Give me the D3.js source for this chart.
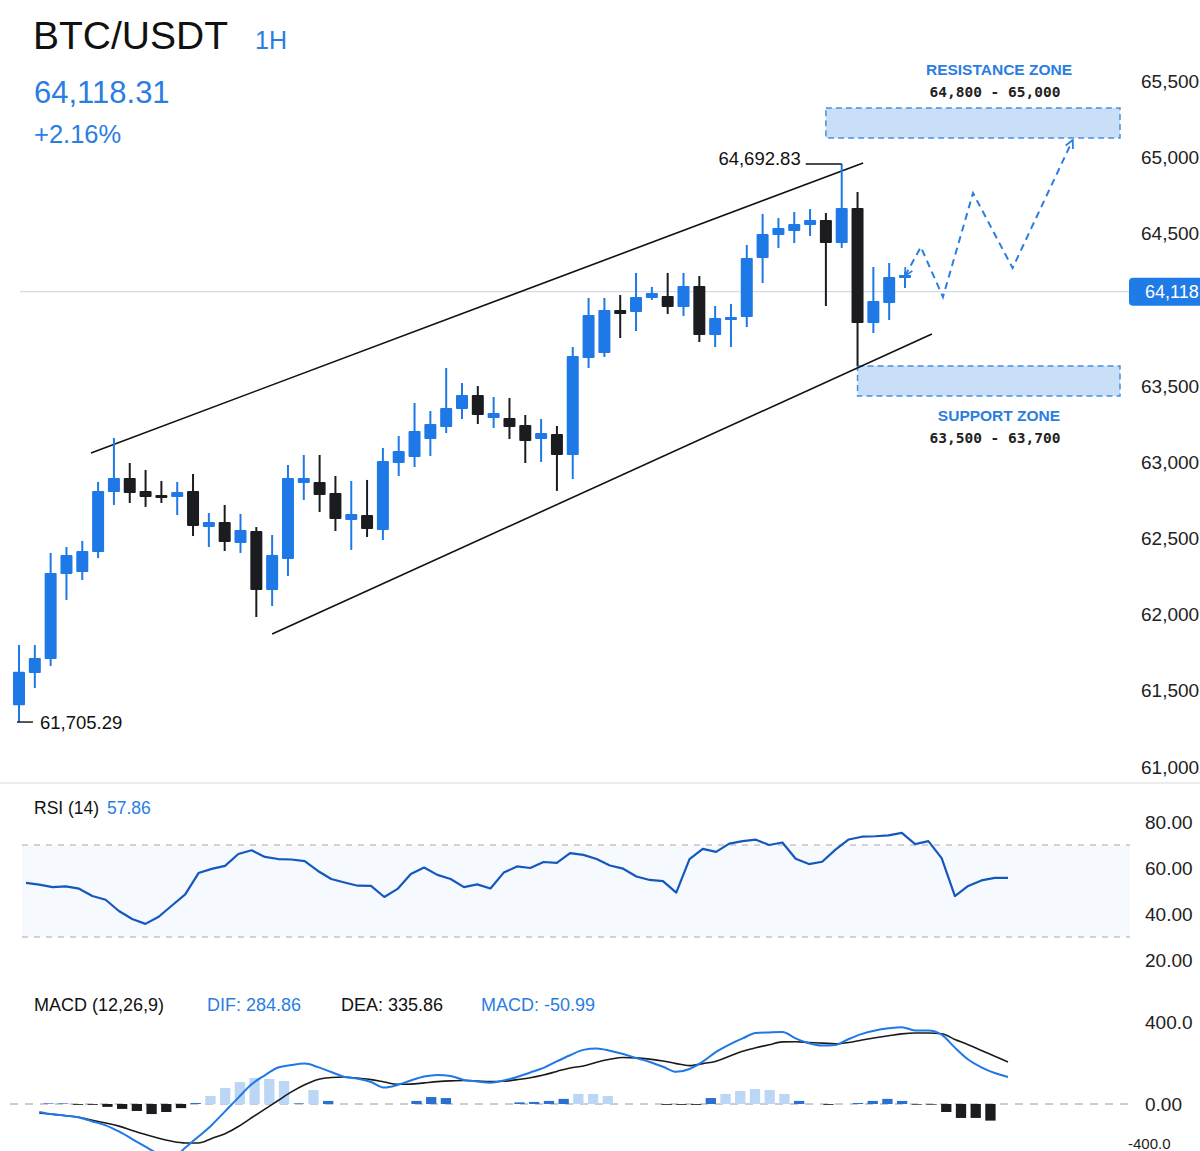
<!DOCTYPE html>
<html>
<head>
<meta charset="utf-8">
<script src="https://cdn.jsdelivr.net/npm/d3@7"></script>
<style>
  html, body { margin: 0; padding: 0; background: #fff; }
  svg { display: block; font-family: "Liberation Sans", Arial, sans-serif; }
</style>
</head>
<body>
<svg id="chart" width="1200" height="1151"></svg>
<script>
// Kerzen (1H)
const candleOpen  = [61405,61617,61708,62266,62279,62410,62804,62896,62811,62784,62771,62811,62574,62607,62469,62548,62161,62364,62863,62870,62797,62620,62653,62555,62994,63034,63152,63230,63348,63440,63289,63289,63244,63152,63184,63047,63683,63716,63998,63985,64077,64090,64018,64155,63834,63939,63952,64339,64490,64516,64556,64588,64437,64667,63913,64044,64214];
const candleHigh  = [61800,61800,62404,62443,62483,62870,63158,62994,62948,62876,62870,62922,62666,62719,62660,62574,62522,62981,63047,63047,62909,62876,62883,63093,63171,63388,63335,63617,63519,63499,63427,63421,63309,63283,63237,63755,64077,64077,64096,64241,64149,64241,64241,64221,64024,64037,64424,64628,64601,64641,64660,64634,64956,64772,64280,64306,64247];
const candleLow   = [61295,61518,61663,62096,62227,62371,62719,62732,62706,62732,62653,62515,62443,62417,62404,61984,62056,62253,62752,62673,62548,62424,62509,62489,62909,62968,63040,63191,63283,63250,63224,63152,62994,63001,62811,62889,63617,63690,63814,63860,64064,63972,63959,63788,63755,63755,63886,64175,64405,64437,64483,64024,64405,63631,63847,63932,64142];
const candleClose = [61625,61715,62273,62391,62417,62811,62896,62797,62771,62771,62804,62581,62607,62476,62555,62161,62391,62896,62896,62784,62627,62660,62561,63007,63073,63204,63250,63355,63440,63309,63322,63230,63139,63191,63047,63696,63965,63998,63972,64083,64109,64018,64155,63834,63945,63952,64339,64496,64536,64562,64588,64437,64667,63913,64057,64214,64228];

const priceTicks = [61000, 61500, 62000, 62500, 63000, 63500, 64500, 65000, 65500];
const lastPrice = 64118.31;

// Trendkanal und Projektion als [Kerzenindex, Preis]
const channelUpper = [[4.55, 63060], [53.35, 64962]];
const channelLower = [[16, 61872], [57.7, 63840]];
const projection = [[56, 64221], [57, 64411], [58.4, 64083], [60.3, 64765], [62.8, 64273], [66.6, 65113]];

// Zonen
const zoneNames  = ["RESISTANCE ZONE", "SUPPORT ZONE"];
const zoneText   = ["64,800 - 65,000", "63,500 - 63,700"];
const zoneLow    = [65126, 63434];
const zoneHigh   = [65323, 63631];
const zoneStart  = [51, 53];

// RSI (14)
const rsiValues = [53.5,52.8,51.7,52.0,51.0,47.8,46.2,41.3,37.8,35.7,38.8,43.7,48.5,57.8,59.6,60.9,66.1,67.7,64.8,63.9,63.7,63.0,58.7,55.2,53.7,52.3,52.2,47.4,50.9,57.4,60.2,57.0,55.2,51.7,52.9,51.1,58.0,60.7,60.0,62.6,62.2,66.5,65.7,63.9,61.1,59.7,56.3,54.8,54.3,49.3,63.9,68.3,67.0,70.6,71.7,72.3,70.0,71.1,64.0,61.7,62.7,68.0,72.4,73.6,73.8,74.2,75.3,70.4,71.7,64.3,47.8,52.2,54.6,55.7,55.7];
const rsiTicks = [80, 60, 40, 20];
const rsiBands = [70, 30];

// MACD (12,26,9) – Linien starten bei Index 1
const difValues = [-39,-50,-57,-66,-85,-104,-134,-171,-208,-244,-265,-213,-159,-102,-36,31,96,140,178,190,197,180,156,132,123,107,80,93,115,134,142,137,117,110,104,115,132,154,176,208,238,264,271,260,244,224,205,182,157,171,207,254,290,320,346,349,351,320,296,285,288,317,342,359,369,375,359,359,338,275,217,179,151,132];
const deaValues = [-44,-50,-57,-65,-79,-93,-108,-129,-149,-167,-182,-190,-190,-168,-145,-110,-67,-25,17,59,94,120,129,132,126,119,107,96,97,103,109,113,115,112,109,111,119,128,141,159,176,185,204,218,227,225,219,210,197,187,197,209,233,257,274,289,303,304,300,297,294,300,312,323,333,342,346,346,343,315,289,261,233,205];
const histValues = [3,3,-4,-4,-14,-24,-34,-49,-39,-20,5,39,78,107,127,122,112,3,68,15,0,0,0,0,0,15,34,29,0,0,0,0,8,10,15,25,49,49,39,0,0,0,-4,-4,-4,29,49,63,73,68,49,15,0,-4,0,5,15,25,15,-3,-3,-39,-68,-68,-81];
const macdTicks = [400, 0];

const blue = "#1e78e6", dark = "#1b1c20", textBlue = "#2a7de1";
const svg = d3.select("#chart");

// Skalen
const x = d3.scaleLinear().domain([0, 56]).range([19, 905]);
const y = d3.scaleLinear().domain([61000, 65500]).range([767, 81]);
const plotRight = 1120;

// Kopfzeile
svg.append("text").attr("x", 33).attr("y", 49).attr("font-size", 39).attr("fill", "#111").text("BTC/USDT");
svg.append("text").attr("x", 255).attr("y", 49).attr("font-size", 25).attr("fill", textBlue).text("1H");
svg.append("text").attr("x", 34).attr("y", 103).attr("font-size", 31).attr("fill", textBlue).text("64,118.31");
svg.append("text").attr("x", 34).attr("y", 143).attr("font-size", 25.5).attr("fill", textBlue).text("+2.16%");

// Preisachse
svg.append("g").selectAll("text").data(priceTicks).enter().append("text")
   .attr("x", 1141).attr("y", d => y(d)).attr("dy", "0.35em")
   .attr("font-size", 19).attr("fill", "#222")
   .text(d => d3.format(",")(d));

// aktuelle Preislinie
svg.append("line").attr("x1", 20).attr("x2", 1130)
   .attr("y1", y(lastPrice)).attr("y2", y(lastPrice))
   .attr("stroke", "#d3dbe6").attr("stroke-width", 1.2);

// Zonen
zoneNames.forEach((name, i) => {
  const top = y(zoneHigh[i]), bot = y(zoneLow[i]);
  svg.append("rect").attr("x", x(zoneStart[i])).attr("y", top)
     .attr("width", plotRight - x(zoneStart[i])).attr("height", bot - top)
     .attr("fill", "#c9def7").attr("stroke", "#4a8fe2").attr("stroke-width", 1.5)
     .attr("stroke-dasharray", "6,4");
  const ty = i === 0 ? top - 33 : bot + 25;
  svg.append("text").attr("x", 999).attr("y", ty).attr("text-anchor", "middle")
     .attr("font-size", 15.5).attr("font-weight", 600).attr("fill", textBlue).text(name);
  svg.append("text").attr("x", 995).attr("y", ty + 22).attr("text-anchor", "middle")
     .attr("font-size", 14.5).attr("font-weight", 600).attr("font-family", "DejaVu Sans Mono")
     .attr("fill", "#222").text(zoneText[i]);
});

// Kanal
[channelUpper, channelLower].forEach(pts => {
  svg.append("line")
     .attr("x1", x(pts[0][0])).attr("y1", y(pts[0][1]))
     .attr("x2", x(pts[1][0])).attr("y2", y(pts[1][1]))
     .attr("stroke", "#111").attr("stroke-width", 1.6);
});

// Kerzen
const candles = d3.range(candleOpen.length).map(i => ({
  i, o: candleOpen[i], h: candleHigh[i], l: candleLow[i], c: candleClose[i]
}));
const cg = svg.append("g");
cg.selectAll("line").data(candles).enter().append("line")
  .attr("x1", d => x(d.i)).attr("x2", d => x(d.i))
  .attr("y1", d => y(d.h)).attr("y2", d => y(d.l))
  .attr("stroke", d => d.c >= d.o ? blue : dark).attr("stroke-width", 2);
cg.selectAll("rect").data(candles).enter().append("rect")
  .attr("x", d => x(d.i) - 6).attr("width", 12)
  .attr("y", d => y(Math.max(d.o, d.c)))
  .attr("height", d => Math.max(3, Math.abs(y(d.o) - y(d.c))))
  .attr("rx", 1)
  .attr("fill", d => d.c >= d.o ? blue : dark);

// Hoch/Tief Beschriftung
const hiIdx = d3.maxIndex(candleHigh), loIdx = d3.minIndex(candleLow);
svg.append("polyline")
   .attr("points", [[x(hiIdx) - 36, y(candleHigh[hiIdx])], [x(hiIdx), y(candleHigh[hiIdx])]].join(" "))
   .attr("fill", "none").attr("stroke", "#111").attr("stroke-width", 1.4);
svg.append("text").attr("x", x(hiIdx) - 41).attr("y", y(candleHigh[hiIdx])).attr("dy", "0.05em")
   .attr("text-anchor", "end").attr("font-size", 18.5).attr("fill", "#111").text("64,692.83");
svg.append("polyline")
   .attr("points", [[x(loIdx) - 2, y(candleLow[loIdx])], [x(loIdx) + 14, y(candleLow[loIdx])]].join(" "))
   .attr("fill", "none").attr("stroke", "#111").attr("stroke-width", 1.4);
svg.append("text").attr("x", x(loIdx) + 21).attr("y", y(candleLow[loIdx])).attr("dy", "0.4em")
   .attr("font-size", 18.5).attr("fill", "#111").text("61,705.29");

// Projektion
const defs = svg.append("defs");
defs.append("marker").attr("id", "arrow").attr("viewBox", "0 0 10 10")
    .attr("refX", 9).attr("refY", 5).attr("markerWidth", 10).attr("markerHeight", 10)
    .attr("orient", "auto-start-reverse").attr("markerUnits", "userSpaceOnUse")
    .append("path").attr("d", "M1,1 L9,5 L1,9").attr("fill", "none")
    .attr("stroke", textBlue).attr("stroke-width", 1.8);
svg.append("path")
   .attr("d", d3.line().x(d => x(d[0])).y(d => y(d[1]))(projection))
   .attr("fill", "none").attr("stroke", textBlue).attr("stroke-width", 2)
   .attr("stroke-dasharray", "7,5")
   .attr("marker-start", "url(#arrow)").attr("marker-end", "url(#arrow)");

// Preis-Label rechts
svg.append("rect").attr("x", 1129).attr("y", y(lastPrice) - 14).attr("width", 80).attr("height", 28)
   .attr("rx", 4).attr("fill", "#1f7be6");
svg.append("text").attr("x", 1145).attr("y", y(lastPrice)).attr("dy", "0.36em")
   .attr("font-size", 18).attr("fill", "#fff").text("64,118");

// Trennlinie
svg.append("line").attr("x1", 0).attr("x2", 1200).attr("y1", 783).attr("y2", 783)
   .attr("stroke", "#e4e6ea").attr("stroke-width", 1.5);

// RSI Panel
const xi = d3.scaleLinear().domain([0, 74]).range([26, 1008]);
const ry = d3.scaleLinear().domain([20, 80]).range([960, 822]);
svg.append("rect").attr("x", 22).attr("width", 1108)
   .attr("y", ry(rsiBands[0])).attr("height", ry(rsiBands[1]) - ry(rsiBands[0]))
   .attr("fill", "#f6f9fd");
svg.append("g").selectAll("line").data(rsiBands).enter().append("line")
   .attr("x1", 22).attr("x2", 1130).attr("y1", d => ry(d)).attr("y2", d => ry(d))
   .attr("stroke", "#aaa").attr("stroke-width", 1).attr("stroke-dasharray", "6,6");
svg.append("path")
   .attr("d", d3.line().x((d, i) => xi(i)).y(d => ry(d))(rsiValues))
   .attr("fill", "none").attr("stroke", "#1558bd").attr("stroke-width", 2.2).attr("stroke-linejoin", "round");
svg.append("g").selectAll("text").data(rsiTicks).enter().append("text")
   .attr("x", 1145).attr("y", d => ry(d)).attr("dy", "0.35em")
   .attr("font-size", 19).attr("fill", "#222").text(d => d3.format(".2f")(d));
svg.append("text").attr("x", 34).attr("y", 814).attr("font-size", 17.5).attr("fill", "#111").text("RSI (14)");
svg.append("text").attr("x", 107).attr("y", 814).attr("font-size", 17.5).attr("fill", textBlue).text("57.86");

// MACD Panel
const my = d3.scaleLinear().domain([0, 400]).range([1104, 1022]);
const xb = d3.scaleBand().domain(d3.range(histValues.length)).range([39, 1000]).padding(0.3);
svg.append("line").attr("x1", 10).attr("x2", 1130).attr("y1", my(0)).attr("y2", my(0))
   .attr("stroke", "#9a9a9a").attr("stroke-width", 1).attr("stroke-dasharray", "8,7");
svg.append("g").selectAll("rect").data(histValues).enter().append("rect")
   .attr("x", (d, i) => xb(i)).attr("width", xb.bandwidth())
   .attr("y", d => my(Math.max(0, d))).attr("height", d => Math.abs(my(d) - my(0)))
   .attr("fill", d => d >= 0 ? (d > 35 ? "#bcd6f6" : "#2b6fd0") : dark);
svg.append("path")
   .attr("d", d3.line().x((d, i) => xi(i + 1)).y(d => my(d)).curve(d3.curveMonotoneX)(deaValues))
   .attr("fill", "none").attr("stroke", "#1a1a1a").attr("stroke-width", 1.6);
svg.append("path")
   .attr("d", d3.line().x((d, i) => xi(i + 1)).y(d => my(d)).curve(d3.curveMonotoneX)(difValues))
   .attr("fill", "none").attr("stroke", blue).attr("stroke-width", 2);
svg.append("g").selectAll("text").data(macdTicks).enter().append("text")
   .attr("x", 1145).attr("y", d => my(d)).attr("dy", "0.35em")
   .attr("font-size", 19).attr("fill", "#222").text(d => d === 0 ? "0.00" : d3.format(".1f")(d));
// unterer Achsenwert, im Original am Rand angeschnitten
svg.append("text").attr("x", 1128).attr("y", 1149)
   .attr("font-size", 15).attr("fill", "#222").text("-400.0");
svg.append("text").attr("x", 34).attr("y", 1011).attr("font-size", 18).attr("fill", "#111").text("MACD (12,26,9)");
svg.append("text").attr("x", 207).attr("y", 1011).attr("font-size", 18).attr("fill", textBlue).text("DIF: 284.86");
svg.append("text").attr("x", 341).attr("y", 1011).attr("font-size", 18).attr("fill", "#111").text("DEA: 335.86");
svg.append("text").attr("x", 481).attr("y", 1011).attr("font-size", 18).attr("fill", textBlue).text("MACD: -50.99");
</script>
</body>
</html>
